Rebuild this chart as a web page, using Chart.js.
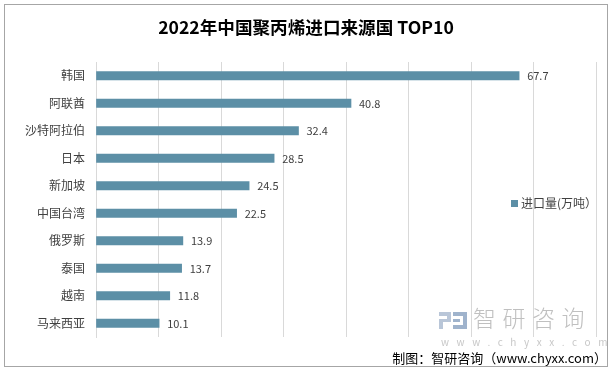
<!DOCTYPE html>
<html>
<head>
<meta charset="utf-8">
<script src="https://cdn.jsdelivr.net/npm/chart.js@4.4.0/dist/chart.umd.min.js"></script>
<style>
  html, body { margin: 0; padding: 0; background: #fff; }
  #wrap { position: relative; width: 612px; height: 369px; font-family: "Noto Sans CJK SC", "Noto Sans", sans-serif; }
  #frame { position: absolute; left: 4px; top: 4px; width: 604px; height: 363px; border: 1px solid #a6a6a6; box-sizing: border-box; }
  canvas { position: absolute; left: 0; top: 0; }
  .txt { position: absolute; white-space: nowrap; }
  #title { left: 0; width: 612px; top: 16px; text-align: center; font-size: 17.6px; font-weight: bold; color: #000; line-height: 22px; }
  #legend { left: 511px; top: 196px; font-size: 12px; color: #404040; line-height: 14px; }
  #legend span.sw { display: inline-block; width: 7px; height: 7px; background: #5C8FA6; margin-right: 3px; vertical-align: 1px; }
  #wm1 { left: 473px; top: 303px; font-size: 23px; font-weight: 300; color: #c0c0c0; letter-spacing: 6.5px; line-height: 28px; }
  #wm2 { left: 441px; top: 336px; font-size: 10px; color: #c8c8c8; letter-spacing: 7.6px; line-height: 12px; }
  #logo { position: absolute; left: 439px; top: 312px; width: 28px; height: 17px; }
  #source { right: 5px; top: 349px; font-size: 13px; color: #000; line-height: 17px; }
</style>
</head>
<body>
<div id="wrap">
  <canvas id="c" width="612" height="369"></canvas>
  <div id="frame"></div>
  <div class="txt" id="title">2022年中国聚丙烯进口来源国 TOP10</div>
  <div class="txt" id="legend"><span class="sw"></span>进口量(万吨）</div>
  <svg id="logo" viewBox="0 0 28 17">
    <rect x="0" y="0" width="12" height="4" fill="#b9c6d8"/>
    <rect x="8" y="0" width="4" height="9" fill="#b9c6d8"/>
    <rect x="0" y="7" width="12" height="3" fill="#b9c6d8"/>
    <rect x="0" y="7" width="4" height="10" fill="#b9c6d8"/>
    <rect x="14" y="0" width="14" height="4" fill="#9fb3cc"/>
    <rect x="24" y="0" width="4" height="17" fill="#9fb3cc"/>
    <rect x="14" y="13" width="14" height="4" fill="#9fb3cc"/>
    <rect x="14" y="7" width="7" height="3" fill="#9fb3cc"/>
  </svg>
  <div class="txt" id="wm1">智研咨询</div>
  <div class="txt" id="wm2">www.chyxx.com</div>
  <div class="txt" id="source">制图：智研咨询（www.chyxx.com）</div>
</div>
<script>
const categories = ["韩国", "阿联酋", "沙特阿拉伯", "日本", "新加坡", "中国台湾", "俄罗斯", "泰国", "越南", "马来西亚"];
const importVolume = [67.7, 40.8, 32.4, 28.5, 24.5, 22.5, 13.9, 13.7, 11.8, 10.1];
const seriesName = "进口量(万吨）";

const valueLabels = {
  id: "valueLabels",
  afterDatasetsDraw(chart) {
    const ctx = chart.ctx;
    const meta = chart.getDatasetMeta(0);
    ctx.save();
    ctx.font = "11px 'Noto Sans CJK SC', 'Noto Sans', sans-serif";
    ctx.fillStyle = "#404040";
    ctx.textAlign = "left";
    ctx.textBaseline = "middle";
    meta.data.forEach((bar, i) => {
      ctx.fillText(String(importVolume[i]), bar.x + 8, bar.y + 0.5);
    });
    ctx.restore();
  }
};

new Chart(document.getElementById("c"), {
  type: "bar",
  data: {
    labels: categories,
    datasets: [{
      label: seriesName,
      data: importVolume,
      backgroundColor: "#5C8FA6",
      borderWidth: 0,
      barThickness: 8.5,
      categoryPercentage: 1,
      barPercentage: 1
    }]
  },
  options: {
    indexAxis: "y",
    responsive: false,
    animation: false,
    devicePixelRatio: 1,
    layout: { padding: { left: 0, right: 16, top: 62, bottom: 32 } },
    plugins: {
      legend: { display: false },
      title: { display: false },
      tooltip: { enabled: false }
    },
    scales: {
      x: {
        min: 0, max: 80,
        ticks: { display: false, stepSize: 10 },
        grid: { color: "#d9d9d9", lineWidth: 1, drawTicks: false },
        border: { display: false }
      },
      y: {
        afterFit(scale) { scale.width = 96; },
        ticks: {
          color: "#404040",
          padding: 11,
          font: { size: 12, family: "'Noto Sans CJK SC', 'Noto Sans', sans-serif" }
        },
        grid: { display: false, drawTicks: false },
        border: { display: true, color: "#d9d9d9", width: 1 }
      }
    }
  },
  plugins: [valueLabels]
});
</script>
</body>
</html>
